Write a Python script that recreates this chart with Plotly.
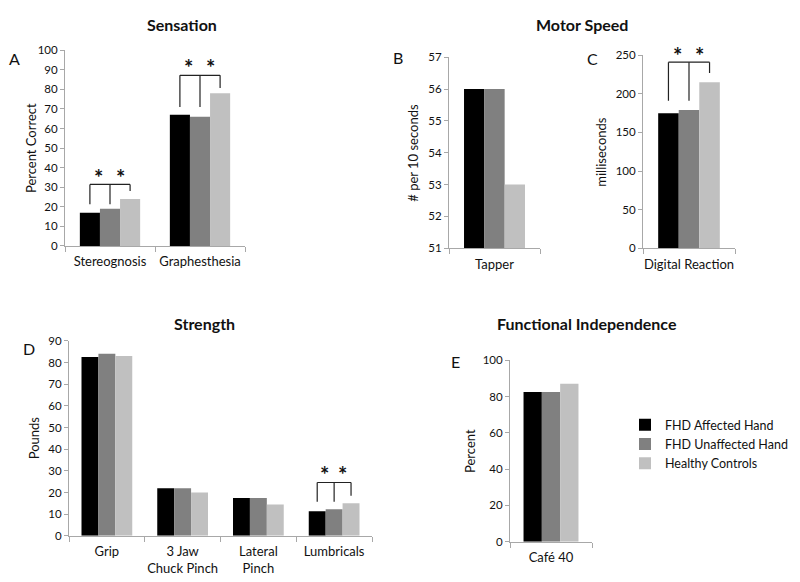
import plotly.graph_objects as go

W, H = 800, 582
FONT = "Lato"
COLORS = ["#000000", "#808080", "#c0c0c0"]
GROUPS = ["FHD Affected Hand", "FHD Unaffected Hand", "Healthy Controls"]

# ---- data ----
sens_cats = ["Stereognosis", "Graphesthesia"]
sens_affected = [17, 67]
sens_unaffected = [19, 66]
sens_controls = [24, 78]

tap_cats = ["Tapper"]
tap_affected = [56]
tap_unaffected = [56]
tap_controls = [53]

react_cats = ["Digital Reaction"]
react_affected = [175]
react_unaffected = [179]
react_controls = [215]

str_cats = ["Grip", "3 Jaw<br>Chuck Pinch", "Lateral<br>Pinch", "Lumbricals"]
str_affected = [82.5, 22, 17.5, 11.3]
str_unaffected = [84, 22, 17.5, 12.3]
str_controls = [83, 20, 14.5, 15]

cafe_cats = ["Café 40"]
cafe_affected = [82.5]
cafe_unaffected = [82.5]
cafe_controls = [87]

# significance brackets: (category index, top, left/mid drop end, right drop end, star y)
sens_sig = [(0, 31.4, 21.3, 28, 37.3), (1, 87.2, 71, 80.7, 93.5)]
react_sig = [(0, 241, 191, 227, 256)]
str_sig = [(3, 24.6, 15.7, 18.5, 30.5)]

BARGAP = 0.33

# mapping from screen pixels of the photographed page to paper fractions
X_OFF = 8
Y_A, Y_B, Y_OFF = 6.9, 0.978, 8


def px(x):
    return (x - X_OFF) / W


def py(y):
    return 1 - ((y - Y_A) / Y_B - Y_OFF) / H


# panel pixel boxes (screen px): (x0, x1, ytop, ybottom)
panels = {
    "A": dict(ax="", box=(65, 245, 50, 245.7), cats=sens_cats,
              vals=(sens_affected, sens_unaffected, sens_controls),
              rng=[0, 100], dtick=10, ytitle="Percent Correct", ytx=31, lab=(14, 58), sig=sens_sig),
    "B": dict(ax="2", box=(449, 540, 57, 248), cats=tap_cats,
              vals=(tap_affected, tap_unaffected, tap_controls),
              rng=[51, 57], dtick=1, ytitle="# per 10 seconds", ytx=413, lab=(398, 57), sig=[]),
    "C": dict(ax="3", box=(643, 735, 55, 248), cats=react_cats,
              vals=(react_affected, react_unaffected, react_controls),
              rng=[0, 250], dtick=50, ytitle="milliseconds", ytx=601, lab=(592, 58), sig=react_sig),
    "D": dict(ax="4", box=(69, 372, 340.7, 535.7), cats=str_cats,
              vals=(str_affected, str_unaffected, str_controls),
              rng=[0, 90], dtick=10, ytitle="Pounds", ytx=34, lab=(29, 348), sig=str_sig),
    "E": dict(ax="5", box=(510, 592, 360, 541.7), cats=cafe_cats,
              vals=(cafe_affected, cafe_unaffected, cafe_controls),
              rng=[0, 100], dtick=20, ytitle="Percent", ytx=470, lab=(455, 361), sig=[]),
}

fig = go.Figure()
layout = dict(
    width=W, height=H, margin=dict(l=0, r=0, t=0, b=0),
    paper_bgcolor="white", plot_bgcolor="white",
    barmode="group", bargap=BARGAP, bargroupgap=0,
    font=dict(family=FONT, color="#222222", size=11),
    showlegend=True,
    legend=dict(x=px(625), y=py(410), xanchor="left", yanchor="top",
                font=dict(family=FONT, size=12.5, color="#111111"),
                bgcolor="rgba(0,0,0,0)", traceorder="normal", itemclick=False),
)
annotations = []
shapes = []
AXCOL = "#a8a8a8"

for key, p in panels.items():
    ax = p["ax"]
    x0, x1, yt, yb = p["box"]
    xname = "x" + ax
    yname = "y" + ax
    for gi in range(3):
        fig.add_trace(go.Bar(
            x=p["cats"], y=p["vals"][gi], name=GROUPS[gi],
            marker=dict(color=COLORS[gi], line=dict(width=0)),
            xaxis=xname, yaxis=yname, showlegend=(key == "A"),
            legendgroup=GROUPS[gi],
        ))
    layout["xaxis" + ax] = dict(
        domain=[px(x0), px(x1)], anchor=yname, type="category",
        showline=True, linecolor=AXCOL, linewidth=1,
        ticks="outside", tickson="boundaries", ticklen=5, tickcolor=AXCOL,
        showgrid=False, zeroline=False, fixedrange=True, tickangle=0,
        tickfont=dict(family=FONT, size=13, color="#111111"),
        ticklabelstandoff=4,
    )
    layout["yaxis" + ax] = dict(
        domain=[py(yb), py(yt)], anchor=xname,
        range=p["rng"], dtick=p["dtick"], tick0=p["rng"][0],
        showline=True, linecolor=AXCOL, linewidth=1,
        ticks="outside", ticklen=4, tickcolor=AXCOL,
        showgrid=False, zeroline=False, fixedrange=True,
        tickfont=dict(family=FONT, size=11.5, color="#111111"),
    )
    # y-axis title
    annotations.append(dict(
        text=p["ytitle"], xref="paper", yref="paper",
        x=px(p["ytx"]), y=py((yt + yb) / 2), textangle=-90,
        showarrow=False, font=dict(family=FONT, size=13, color="#111111"),
        xanchor="center", yanchor="middle",
    ))
    # panel letter
    annotations.append(dict(
        text=key, xref="paper", yref="paper",
        x=px(p["lab"][0]), y=py(p["lab"][1]), showarrow=False,
        font=dict(family=FONT, size=16, color="#111111"),
        xanchor="center", yanchor="middle",
    ))
    # significance brackets
    bw = (1 - BARGAP) / 3
    r0, r1 = p["rng"]
    for (ci, top, lend, rend, sy) in p["sig"]:
        lx, mx, rx = ci - bw, ci, ci + bw
        line = dict(color="#222222", width=1.2)
        shapes.append(dict(type="line", xref=xname, yref=yname, x0=lx, x1=rx, y0=top, y1=top, line=line))
        shapes.append(dict(type="line", xref=xname, yref=yname, x0=lx, x1=lx, y0=top, y1=lend, line=line))
        shapes.append(dict(type="line", xref=xname, yref=yname, x0=mx, x1=mx, y0=top, y1=lend, line=line))
        shapes.append(dict(type="line", xref=xname, yref=yname, x0=rx, x1=rx, y0=top, y1=rend, line=line))
        for sx in (ci - bw / 2 - 0.05 * bw, ci + bw / 2):
            annotations.append(dict(
                text="<b>*</b>", xref=xname, yref=yname + " domain",
                x=sx, y=(sy - r0) / (r1 - r0),
                showarrow=False, font=dict(family=FONT, size=22, color="#111111"),
                xanchor="center", yanchor="middle", yshift=-5,
            ))

# section titles (top row pinned to the top edge, bottom row by centre)
for t, tx in (("Sensation", 182), ("Motor Speed", 582)):
    annotations.append(dict(
        text="<b>" + t + "</b>", xref="paper", yref="paper",
        x=px(tx), y=1, showarrow=False, yshift=2,
        font=dict(family=FONT, size=16, color="#111111"),
        xanchor="center", yanchor="top",
    ))
for t, tx, ty in (("Strength", 204, 323), ("Functional Independence", 587, 323)):
    annotations.append(dict(
        text="<b>" + t + "</b>", xref="paper", yref="paper",
        x=px(tx), y=py(ty), showarrow=False,
        font=dict(family=FONT, size=16, color="#111111"),
        xanchor="center", yanchor="middle",
    ))

layout["annotations"] = annotations
layout["shapes"] = shapes
fig.update_layout(**layout)
fig.write_html("out.html")
